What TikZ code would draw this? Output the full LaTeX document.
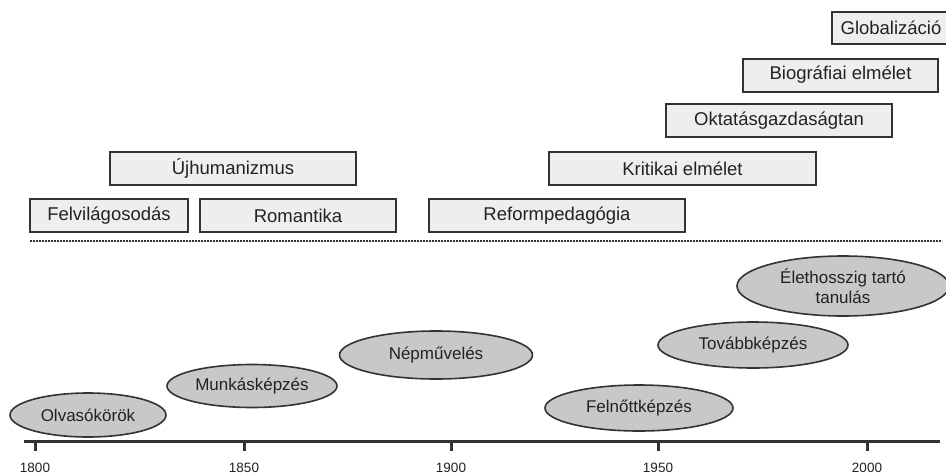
\documentclass[tikz,border=0pt]{standalone}
\usepackage{fontspec}
\setmainfont{Liberation Sans}
\usetikzlibrary{shapes.geometric}
\definecolor{edge}{HTML}{333333}
\definecolor{boxfill}{HTML}{EEEEEE}
\definecolor{cloudfill}{HTML}{C8C8C8}
\definecolor{ink}{HTML}{222222}
\tikzset{
  era/.style={draw=edge, fill=boxfill, line width=2pt, rectangle, minimum height=33pt, inner sep=0pt,
    font=\fontsize{18.5}{21}\selectfont, text=ink},
  cloud/.style={draw=edge, fill=cloudfill, line width=1.6pt, ellipse, inner sep=0pt,
    font=\fontsize{17}{19.5}\selectfont, text=ink, align=center},
  axisline/.style={draw=edge, line width=3pt},
  tickmark/.style={draw=edge, line width=3pt},
  yearlabel/.style={font=\fontsize{13.5}{15}\selectfont, text=ink},
  sepline/.style={draw=edge, line width=2pt, dash pattern=on 2pt off 1pt}
}
\begin{document}
\begin{tikzpicture}[x=1pt,y=-1pt]
\useasboundingbox (0,0) rectangle (946,475);
\fill[white] (0,0) rectangle (946,475);
% era boxes
\node[era, minimum width=158pt] (felv) at (109,215.5) {Felvilágosodás};
\node[era, minimum width=196pt] (rom) at (298,215.5) {Romantika};
\node[era, minimum width=256pt] (reform) at (557,215.5) {Reformpedagógia};
\node[era, minimum width=246pt] (ujh) at (233,168.5) {Újhumanizmus};
\node[era, minimum width=267pt] (krit) at (682.5,168.5) {Kritikai elmélet};
\node[era, minimum width=226pt] (okt) at (779,120.5) {Oktatásgazdaságtan};
\node[era, minimum width=195pt] (bio) at (840.5,75) {Biográfiai elmélet};
\node[era, minimum width=118pt, minimum height=32pt] (glob) at (891,28) {Globalizáció};
% separator
\coordinate (sepL) at (30,241);
\coordinate (sepR) at (942,241);
\draw[sepline] (sepL) -- (sepR);
% clouds
\node[cloud, minimum width=156pt, minimum height=44pt] (olv) at (88,415) {Olvasókörök};
\node[cloud, minimum width=170pt, minimum height=43pt] (munk) at (252,386) {Munkásképzés};
\node[cloud, minimum width=193pt, minimum height=48pt] (nep) at (436,355) {Népművelés};
\node[cloud, minimum width=188pt, minimum height=46pt] (feln) at (639,408) {Felnőttképzés};
\node[cloud, minimum width=190pt, minimum height=46pt] (tovabb) at (753,345) {Továbbképzés};
\node[cloud, minimum width=212pt, minimum height=60pt] (eleth) at (843,286) {Élethosszig tartó\\tanulás};
% axis
\coordinate (axL) at (24,441);
\coordinate (axR) at (940,441);
\draw[axisline] (axL) -- (axR);
\foreach \yr/\xx in {1800/35,1850/244,1900/451,1950/658,2000/867}{
  \coordinate (t\yr) at (\xx,441);
  \coordinate (b\yr) at (\xx,451);
  \draw[tickmark] (t\yr) -- (b\yr);
  \node[yearlabel] (l\yr) at (\xx,468) {\yr};
}
\end{tikzpicture}
\end{document}
